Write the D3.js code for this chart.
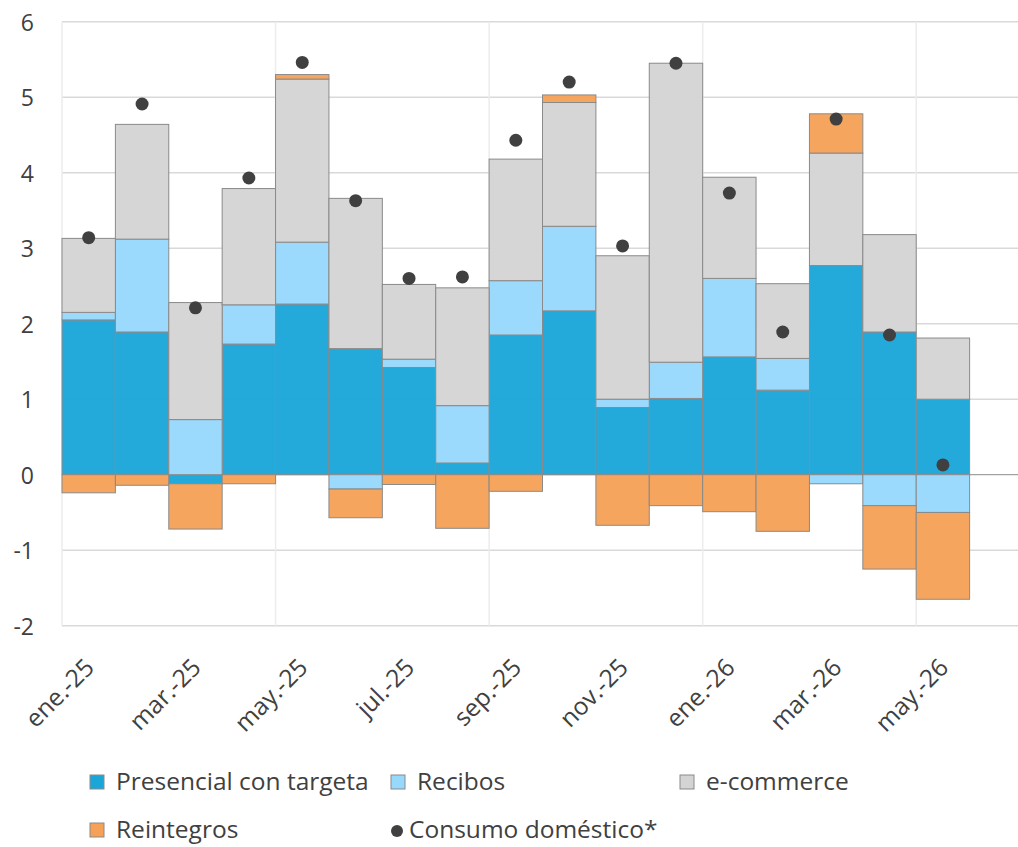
<!DOCTYPE html>
<html>
<head>
<meta charset="utf-8">
<script src="https://cdn.jsdelivr.net/npm/d3@7"></script>
<style>
  body { margin: 0; background: #fff; }
  svg { display: block; font-family: "Open Sans", sans-serif; }
</style>
</head>
<body>
<script>
// months on the x axis (jun.-26 left empty, as in the original)
var months = ['ene.-25', 'feb.-25', 'mar.-25', 'abr.-25', 'may.-25', 'jun.-25', 'jul.-25', 'ago.-25',
    'sep.-25', 'oct.-25', 'nov.-25', 'dic.-25', 'ene.-26', 'feb.-26', 'mar.-26', 'abr.-26', 'may.-26', 'jun.-26'];

// series values
var presencial = [2.05, 1.89, -0.12, 1.73, 2.26, 1.67, 1.42, 0.155, 1.85, 2.17, 0.89, 1.01, 1.56, 1.12, 2.77, 1.89, 1.00];
var recibos    = [0.10, 1.23, 0.73, 0.52, 0.82, -0.19, 0.11, 0.76, 0.72, 1.12, 0.11, 0.48, 1.04, 0.42, -0.12, -0.41, -0.50];
var ecommerce  = [0.98, 1.52, 1.55, 1.54, 2.16, 1.99, 0.99, 1.56, 1.61, 1.64, 1.90, 3.96, 1.34, 0.99, 1.49, 1.29, 0.81];
var reintegros = [-0.24, -0.14, -0.60, -0.12, 0.06, -0.38, -0.13, -0.71, -0.22, 0.10, -0.67, -0.41, -0.49, -0.75, 0.52, -0.84, -1.15];
var consumo    = [3.14, 4.91, 2.21, 3.93, 5.46, 3.63, 2.60, 2.62, 4.43, 5.20, 3.03, 5.45, 3.73, 1.89, 4.71, 1.85, 0.13];

var yTicks = [-2, -1, 0, 1, 2, 3, 4, 5, 6];

var keys = ['presencial', 'recibos', 'ecommerce', 'reintegros'];
var names = {
    presencial: 'Presencial con targeta',
    recibos: 'Recibos',
    ecommerce: 'e-commerce',
    reintegros: 'Reintegros'
};
var colors = {
    presencial: '#1ba6da',
    recibos: '#97d9fc',
    ecommerce: '#d4d4d4',
    reintegros: '#f6a158'
};

// one row per month with values
var rows = presencial.map(function(v, i) {
    return {
        month: months[i],
        presencial: v,
        recibos: recibos[i],
        ecommerce: ecommerce[i],
        reintegros: reintegros[i],
        consumo: consumo[i]
    };
});

var width = 1018, height = 847;

var svg = d3.select('body').append('svg')
    .attr('width', width)
    .attr('height', height);

var x = d3.scaleBand().domain(months).range([62, 1023]).padding(0);
var y = d3.scaleLinear().domain([-2, 6]).range([625.7, 21.7]);

// horizontal gridlines
svg.append('g')
    .selectAll('line')
    .data(yTicks.filter(function(d) { return d !== 0; }))
    .enter().append('line')
    .attr('x1', 62)
    .attr('x2', width)
    .attr('y1', function(d) { return y(d); })
    .attr('y2', function(d) { return y(d); })
    .attr('stroke', '#d9d9d9')
    .attr('stroke-width', 1.5);

// vertical gridlines every 4 months
svg.append('g')
    .selectAll('line')
    .data(months.filter(function(d, i) { return i % 4 === 0; }))
    .enter().append('line')
    .attr('x1', function(d) { return x(d); })
    .attr('x2', function(d) { return x(d); })
    .attr('y1', y(6))
    .attr('y2', y(-2))
    .attr('stroke', '#ececec')
    .attr('stroke-width', 1.5);

// zero axis line
svg.append('line')
    .attr('x1', 62)
    .attr('x2', width)
    .attr('y1', y(0))
    .attr('y2', y(0))
    .attr('stroke', '#8c8c8c')
    .attr('stroke-width', 1);

// stacked bars, negatives stacked downwards
var stack = d3.stack().keys(keys).offset(d3.stackOffsetDiverging);
var series = stack(rows);

svg.append('g')
    .selectAll('g')
    .data(series)
    .enter().append('g')
    .attr('fill', function(d) { return colors[d.key]; })
    .selectAll('rect')
    .data(function(d) { return d; })
    .enter().append('rect')
    .attr('x', function(d) { return x(d.data.month); })
    .attr('width', x.bandwidth())
    .attr('y', function(d) { return y(Math.max(d[0], d[1])); })
    .attr('height', function(d) { return Math.abs(y(d[0]) - y(d[1])); })
    .attr('fill-opacity', 0.96)
    .attr('stroke', '#8a8a8a')
    .attr('stroke-width', 1);

// consumo doméstico dots
svg.append('g')
    .selectAll('circle')
    .data(rows)
    .enter().append('circle')
    .attr('cx', function(d) { return x(d.month) + x.bandwidth() / 2; })
    .attr('cy', function(d) { return y(d.consumo); })
    .attr('r', 6.5)
    .attr('fill', '#404040');

// y tick labels
svg.append('g')
    .selectAll('text')
    .data(yTicks)
    .enter().append('text')
    .attr('x', 34)
    .attr('y', function(d) { return y(d) + 9; })
    .attr('text-anchor', 'end')
    .attr('font-size', 23)
    .attr('fill', '#404040')
    .text(function(d) { return d; });

// x tick labels, every second month, rotated
svg.append('g')
    .selectAll('text')
    .data(months.filter(function(d, i) { return i % 2 === 0 && i < 17; }))
    .enter().append('text')
    .attr('transform', function(d) {
        return 'translate(' + (x(d) + x.bandwidth() / 2 + 7) + ',669) rotate(-45)';
    })
    .attr('text-anchor', 'end')
    .attr('font-size', 24.5)
    .attr('fill', '#404040')
    .text(function(d) { return d; });

// legend
var legendItems = [
    { key: 'presencial', x: 90, y: 790 },
    { key: 'recibos', x: 391, y: 790 },
    { key: 'ecommerce', x: 680, y: 790 },
    { key: 'reintegros', x: 90, y: 838 }
];

var legend = svg.append('g');
legendItems.forEach(function(item) {
    legend.append('rect')
        .attr('x', item.x)
        .attr('y', item.y - 15)
        .attr('width', 14)
        .attr('height', 14)
        .attr('fill', colors[item.key])
        .attr('stroke', '#8a8a8a')
        .attr('stroke-width', 1);
    legend.append('text')
        .attr('x', item.x + 26)
        .attr('y', item.y)
        .attr('font-size', 24.5)
        .attr('fill', '#404040')
        .text(names[item.key]);
});

legend.append('circle')
    .attr('cx', 397)
    .attr('cy', 831)
    .attr('r', 6)
    .attr('fill', '#404040');
legend.append('text')
    .attr('x', 409)
    .attr('y', 838)
    .attr('font-size', 24.5)
    .attr('fill', '#404040')
    .text('Consumo doméstico*');
</script>
</body>
</html>
